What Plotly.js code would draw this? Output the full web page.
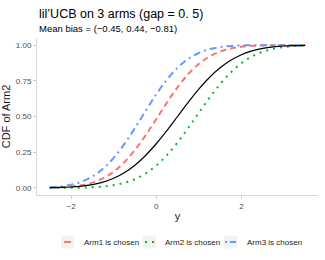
<!DOCTYPE html>
<html>
<head>
<meta charset="utf-8">
<script src="https://cdn.plot.ly/plotly-3.0.1.min.js"></script>
<style>html,body{margin:0;padding:0;background:#fff;}#chart{width:325px;height:260px;}</style>
</head>
<body>
<div id="chart"></div>
<script>
const yGrid = [-2.5,-2.25,-2,-1.75,-1.5,-1.25,-1,-0.75,-0.5,-0.25,0,0.25,0.5,0.75,1,1.25,1.5,1.75,2,2.25,2.5,2.75,3,3.25,3.5];
const trueCdf = [0.001,0.003,0.006,0.012,0.023,0.040,0.067,0.106,0.159,0.227,0.309,0.401,0.500,0.599,0.692,0.773,0.841,0.894,0.933,0.960,0.977,0.988,0.994,0.997,0.999];
const arm1Cdf = [0.002,0.004,0.009,0.019,0.037,0.067,0.113,0.179,0.265,0.368,0.481,0.596,0.704,0.796,0.868,0.920,0.955,0.977,0.989,0.995,0.998,0.999,1.000,1.000,1.000];
const arm2Cdf = [0.000,0.000,0.001,0.002,0.004,0.009,0.019,0.035,0.061,0.100,0.156,0.229,0.318,0.419,0.526,0.630,0.726,0.808,0.873,0.921,0.953,0.974,0.987,0.994,0.997];
const arm3Cdf = [0.005,0.010,0.022,0.044,0.079,0.134,0.210,0.306,0.419,0.538,0.655,0.758,0.841,0.903,0.945,0.972,0.986,0.994,0.998,0.999,1.000,1.000,1.000,1.000,1.000];
const seriesNames = ["Arm1 is chosen","Arm2 is chosen","Arm3 is chosen"];
const seriesColors = ["#F8766D","#00BA38","#619CFF"];
const seriesDashes = ["6px,4px","2px,5px","7px,4px,2px,4px"];
const keyDashes = ["solid","2px,5px","2px,3px,6px,10px"];
const titleText = "lil’UCB on 3 arms (gap = 0. 5)";
const subtitleText = "Mean bias = (−0.45, 0.44, −0.81)";

const font = "Liberation Sans, Arial, sans-serif";
const M = {l: 37, r: 7, t: 38, b: 65};
const W = 325, H = 260;
const pw = W - M.l - M.r, ph = H - M.t - M.b;
const px = v => (v - M.l) / pw;
const py = v => (H - M.b - v) / ph;

const armData = [arm1Cdf, arm2Cdf, arm3Cdf];
const traces = armData.map((d, i) => ({
  x: yGrid, y: d, name: seriesNames[i], mode: "lines", showlegend: false,
  line: {color: seriesColors[i], width: 2, dash: seriesDashes[i], shape: "spline"}
}));
traces.push({x: yGrid, y: trueCdf, name: "true", mode: "lines", showlegend: false,
  line: {color: "#000000", width: 1.2, shape: "spline"}});

// manual legend (ggplot-style keys)
const keyX = [61, 143, 224];
const textX = [82, 163, 245];
const keyLine = [[3, 10], [2, 11], [1, 12]];
const keyY = 242;
const shapes = [];
const annotations = [
  {text: titleText, xref: "paper", yref: "paper", x: 0, y: 1, xshift: 0, yshift: 24, xanchor: "left", yanchor: "middle",
   showarrow: false, font: {family: font, size: 12.5, color: "#000"}},
  {text: subtitleText, xref: "paper", yref: "paper", x: 0, y: 1, xshift: 0, yshift: 10, xanchor: "left", yanchor: "middle",
   showarrow: false, font: {family: font, size: 9.5, color: "#000"}}
];
for (let i = 0; i < 3; i++) {
  shapes.push({type: "rect", xref: "paper", yref: "paper", x0: px(keyX[i]), x1: px(keyX[i] + 13),
    y0: py(keyY + 6.5), y1: py(keyY - 6.5), fillcolor: "#F2F2F2", line: {width: 0}, layer: "below"});
  shapes.push({type: "line", xref: "paper", yref: "paper", x0: px(keyX[i] + keyLine[i][0]), x1: px(keyX[i] + keyLine[i][1]),
    y0: py(keyY), y1: py(keyY), line: {color: seriesColors[i], width: 2, dash: keyDashes[i]}});
  annotations.push({text: seriesNames[i], xref: "paper", yref: "paper", x: px(textX[i]), y: py(keyY),
    xanchor: "left", yanchor: "middle", showarrow: false, font: {family: font, size: 8, color: "#1a1a1a"}});
}

const layout = {
  width: W, height: H,
  margin: M,
  paper_bgcolor: "#fff", plot_bgcolor: "#fff",
  font: {family: font, size: 8, color: "#4D4D4D"},
  showlegend: false,
  xaxis: {range: [-2.8, 3.8], tickvals: [-2, 0, 2], ticktext: ["−2","0","2"], showgrid: false, zeroline: false,
          showline: true, linecolor: "#d9d9d9", linewidth: 1, ticks: "outside", ticklen: 3, tickcolor: "#cccccc",
          tickfont: {size: 8, color: "#4D4D4D"},
          title: {text: "y", font: {size: 11, color: "#1a1a1a"}, standoff: 2}},
  yaxis: {range: [-0.05, 1.05], tickvals: [0, 0.25, 0.5, 0.75, 1], ticktext: ["0.00","0.25","0.50","0.75","1.00"],
          showgrid: false, zeroline: false, showline: true, linecolor: "#d9d9d9", linewidth: 1,
          ticks: "outside", ticklen: 3, tickcolor: "#cccccc", tickfont: {size: 8, color: "#4D4D4D"},
          title: {text: "CDF of Arm2", font: {size: 11, color: "#1a1a1a"}, standoff: 6}},
  shapes: shapes,
  annotations: annotations
};
Plotly.newPlot("chart", traces, layout, {displayModeBar: false, staticPlot: true});
</script>
</body>
</html>
